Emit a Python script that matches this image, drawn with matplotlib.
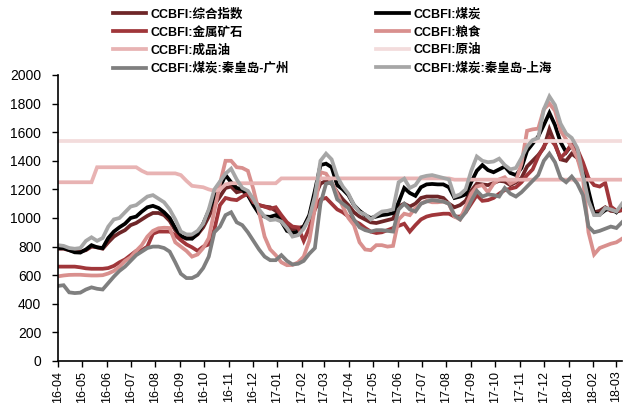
import matplotlib
matplotlib.use("Agg")
import matplotlib.pyplot as plt
import matplotlib.dates as mdates
import pandas as pd

plt.rcParams["font.family"] = ["Liberation Sans", "Noto Sans CJK SC"]

# weekly CCBFI readings, 2016-04-01 .. 2018-03-09
dates = pd.date_range("2016-04-01", periods=102, freq="7D")

composite = [785, 785, 775, 765, 765, 775, 800, 795, 785, 830,
             870, 895, 915, 950, 965, 990, 1015, 1035, 1035, 1020,
             980, 915, 870, 855, 860, 885, 935, 1010, 1090, 1150,
             1210, 1220, 1180, 1190, 1160, 1110, 1090, 1080, 1075, 1050,
             1010, 950, 920, 930, 940, 1010, 1150, 1240, 1260, 1240,
             1180, 1130, 1090, 1040, 1010, 990, 970, 965, 975, 985,
             995, 1080, 1100, 1080, 1100, 1140, 1150, 1150, 1150, 1140,
             1100, 1075, 1090, 1120, 1190, 1240, 1235, 1230, 1245, 1260,
             1255, 1230, 1250, 1280, 1360, 1400, 1440, 1490, 1620, 1520,
             1410, 1400, 1450, 1420, 1330, 1150, 1040, 1050, 1075, 1050,
             1045, 1055]

coal = [790, 790, 775, 760, 758, 780, 810, 795, 790, 860,
        905, 935, 960, 1000, 1010, 1045, 1075, 1085, 1070, 1040,
        1000, 930, 875, 858, 855, 890, 960, 1050, 1150, 1215,
        1300, 1250, 1210, 1200, 1160, 1090, 1030, 1010, 1008, 1020,
        975, 910, 895, 905, 940, 1020, 1190, 1370, 1380, 1355,
        1230, 1200, 1160, 1090, 1050, 1020, 1000, 1010, 1020, 1025,
        1035, 1110, 1210, 1175, 1155, 1215, 1235, 1238, 1235, 1235,
        1215, 1140, 1150, 1165, 1250, 1330, 1370, 1335, 1320, 1340,
        1360, 1315, 1300, 1350, 1470, 1520, 1570, 1650, 1735, 1650,
        1530, 1460, 1510, 1470, 1360, 1190, 1030, 1025, 1055, 1070,
        1040, 1080]

metal_ore = [660, 660, 660, 660, 655, 648, 645, 645, 645, 650,
             665, 690, 710, 740, 770, 775, 800, 890, 905, 905,
             905, 880, 845, 815, 795, 770, 800, 815, 920, 1090,
             1140, 1130, 1125, 1150, 1170, 1110, 1090, 1080, 1065, 1075,
             1020, 970, 940, 935, 840, 930, 1060, 1130, 1140, 1100,
             1060, 1040, 1010, 980, 960, 930, 905, 895, 900, 915,
             930, 945, 960, 905, 950, 990, 1010, 1020, 1025, 1030,
             1030, 1010, 1010, 1040, 1100, 1160, 1120, 1125, 1140, 1170,
             1195, 1205, 1215, 1250, 1300, 1340, 1430, 1500, 1560, 1510,
             1420, 1460, 1520, 1480, 1390, 1280, 1230, 1220, 1245, 1080,
             1050, 1055]

grain = [592, 598, 602, 603, 603, 600, 598, 598, 600, 612,
         630, 660, 700, 725, 770, 810, 870, 910, 928, 932,
         930, 830, 800, 770, 730, 745, 790, 860, 1050, 1240,
         1400, 1400, 1355, 1350, 1330, 1200, 1040, 870, 780, 740,
         690, 670, 672, 690, 730, 840, 1070, 1320, 1310, 1250,
         1170, 1080, 1000, 950, 830, 780, 775, 810, 810, 800,
         805, 990, 1030, 1020, 1070, 1100, 1120, 1110, 1110, 1115,
         1100, 1010, 990, 1080, 1170, 1220, 1230, 1180, 1240, 1270,
         1285, 1240, 1260, 1380, 1610, 1620, 1625, 1760, 1800, 1750,
         1610, 1550, 1500, 1420, 1280, 900, 745, 790, 805, 820,
         830, 855]

products = [1250, 1250, 1250, 1250, 1250, 1250, 1250, 1355, 1355, 1355,
            1355, 1355, 1355, 1355, 1355, 1330, 1312, 1312, 1312, 1312,
            1312, 1312, 1300, 1260, 1225, 1220, 1215, 1200, 1190, 1200,
            1235, 1243, 1243, 1243, 1243, 1243, 1243, 1243, 1243, 1243,
            1277, 1277, 1277, 1277, 1277, 1277, 1277, 1277, 1277, 1277,
            1277, 1277, 1277, 1277, 1277, 1277, 1277, 1277, 1277, 1277,
            1277, 1277, 1277, 1277, 1277, 1277, 1277, 1277, 1277, 1277,
            1277, 1268, 1268, 1268, 1268, 1268, 1268, 1268, 1268, 1268,
            1268, 1268, 1268, 1268, 1268, 1268, 1268, 1268, 1268, 1268,
            1268, 1268, 1268, 1268, 1268, 1268, 1268, 1268, 1268, 1268,
            1268, 1268]

crude = [1540] * 102  # flat over the whole period

coal_qhd_gz = [525, 530, 480, 475, 478, 500, 515, 505, 500, 545,
               590, 630, 660, 700, 740, 765, 790, 800, 800, 790,
               765, 690, 610, 580, 580, 600, 650, 730, 900, 940,
               1020, 1040, 970, 950, 900, 840, 780, 730, 705, 705,
               740, 700, 675, 680, 700, 750, 790, 1100, 1240, 1250,
               1130, 1100, 1070, 990, 935, 915, 905, 915, 915, 910,
               905, 1060, 1100, 1060, 1045, 1100, 1115, 1125, 1120, 1115,
               1100, 1020, 990, 1040, 1120, 1190, 1150, 1165, 1160, 1150,
               1210, 1170, 1150, 1180, 1220, 1260, 1300, 1400, 1450, 1390,
               1280, 1250, 1290, 1240, 1160, 940, 900, 910, 925, 940,
               930, 970]

coal_qhd_sh = [810, 805, 790, 785, 790, 840, 865, 840, 860, 940,
               990, 1000, 1040, 1080, 1090, 1120, 1150, 1160, 1135, 1110,
               1060, 990, 905, 885, 885, 910, 960, 1060, 1200, 1255,
               1310, 1345, 1270, 1210, 1190, 1130, 1060, 1010, 985, 990,
               975, 930, 870, 880, 925, 1000, 1150, 1400, 1450, 1410,
               1290, 1220, 1170, 1090, 1040, 1025, 990, 1020, 1045, 1050,
               1060, 1250, 1275, 1210, 1230, 1285, 1295, 1300, 1290, 1280,
               1270, 1150, 1165, 1200, 1330, 1430, 1400, 1390, 1395, 1415,
               1370, 1340, 1350, 1420, 1500, 1545, 1560, 1760, 1850, 1790,
               1660, 1590, 1560, 1490, 1300, 1120, 1020, 1020, 1070, 1060,
               1045, 1100]

series = [
    ("CCBFI:综合指数", composite, "#6e2628"),
    ("CCBFI:煤炭", coal, "#000000"),
    ("CCBFI:金属矿石", metal_ore, "#a0363a"),
    ("CCBFI:粮食", grain, "#d9908e"),
    ("CCBFI:成品油", products, "#e8b3b3"),
    ("CCBFI:原油", crude, "#f3dcdc"),
    ("CCBFI:煤炭:秦皇岛-广州", coal_qhd_gz, "#7f7f7f"),
    ("CCBFI:煤炭:秦皇岛-上海", coal_qhd_sh, "#a6a6a6"),
]

fig = plt.figure(figsize=(6.3, 4.03), dpi=100)
ax = fig.add_axes([58 / 630, 1 - 361 / 403, 564 / 630, 286 / 403])

handles = []
for name, vals, color in series:
    h, = ax.plot(dates, vals, color=color, lw=2.7, label=name,
                 solid_joinstyle="miter")
    handles.append(h)

ax.set_ylim(0, 2000)
ax.set_yticks(range(0, 2001, 200))
ax.set_xlim(dates[0], dates[-1])
ax.set_xticks(pd.date_range("2016-04-01", "2018-03-01", freq="MS"))
ax.xaxis.set_major_formatter(mdates.DateFormatter("%y-%m"))
ax.tick_params(axis="x", labelrotation=90, labelsize=9, length=4, width=1, pad=3)
ax.tick_params(axis="y", labelsize=10, length=4, width=1, pad=8)
for s in ("top", "right"):
    ax.spines[s].set_visible(False)
for s in ("left", "bottom"):
    ax.spines[s].set_linewidth(1.2)

# legend is laid out row-wise in the reference: reorder for column filling
order = [0, 2, 4, 6, 1, 3, 5, 7]
fig.legend([handles[i] for i in order], [series[i][0] for i in order],
           ncol=2, loc="upper left", bbox_to_anchor=(113 / 630, 0.98),
           frameon=False, borderpad=0, borderaxespad=0,
           handlelength=2.6, handletextpad=0.4, columnspacing=7.0,
           labelspacing=0.47, prop={"size": 9, "weight": "bold"})

fig.savefig("out.png", dpi=100)
